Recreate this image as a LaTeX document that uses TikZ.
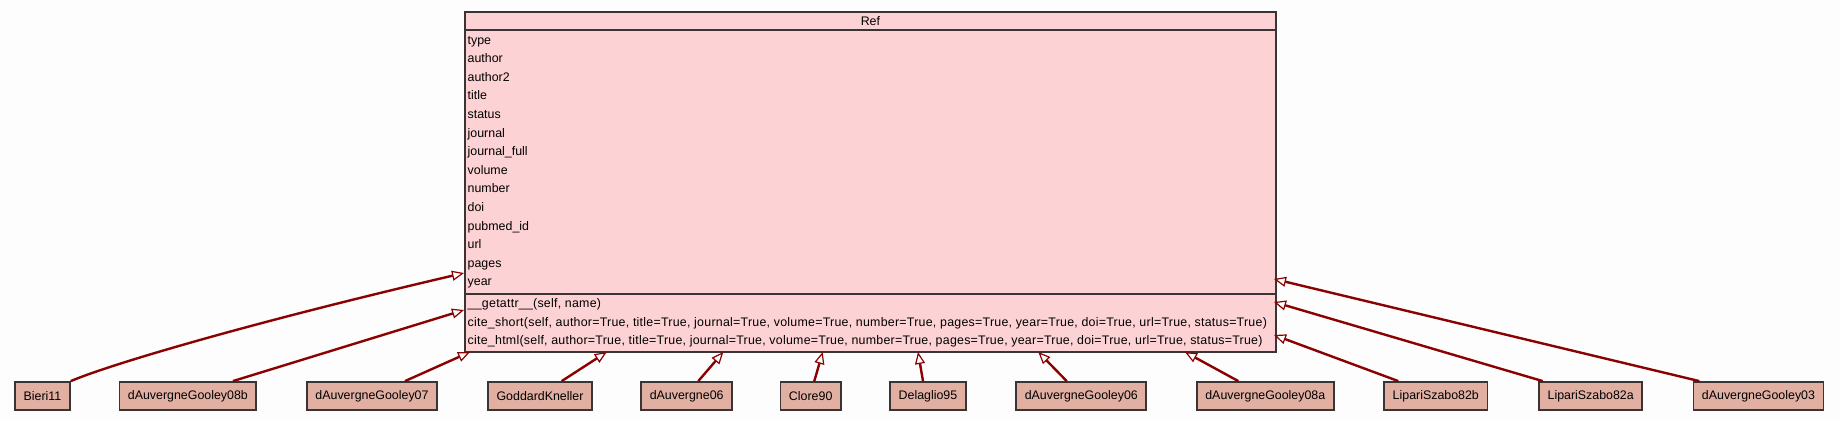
\documentclass[tikz,border=0pt]{standalone}
\usepackage{fontspec}
\setmainfont{Liberation Sans}
\usetikzlibrary{arrows.meta}
\definecolor{umlpink}{RGB}{253,210,212}
\definecolor{umlsalmon}{RGB}{226,176,163}
\definecolor{umlred}{RGB}{139,0,0}
\definecolor{umlborder}{RGB}{58,52,52}
\definecolor{umlbg}{RGB}{252,253,252}
\newcommand\umlfont{\fontsize{12.4}{14}\selectfont}
\newcommand\methfont{\umlfont\addfontfeature{LetterSpace=2.0}}
\tikzset{
  classbox/.style={rectangle, draw=umlborder, fill=umlpink, line width=1.8pt,
                   inner sep=0pt, anchor=north west, minimum width=811pt, font=\umlfont},
  classrow/.style={anchor=base west, inner sep=0pt, font=\umlfont},
  methrow/.style={anchor=base west, inner sep=0pt, font=\methfont},
  subclass/.style={rectangle, draw=umlborder, fill=umlsalmon, line width=1.8pt,
                   minimum height=28pt, inner xsep=8.5pt, inner ysep=0pt, font=\umlfont},
  inherit/.style={-{Triangle[length=12pt, width=10pt, fill=white, line width=1.2pt]},
                  line width=2.4pt, umlred},
}

\begin{document}
\begin{tikzpicture}[x=1pt, y=-1pt]
  \fill[umlbg] (0,0) rectangle (1840,421);
  \useasboundingbox (0,0) rectangle (1840,421);
  \node[classbox, minimum height=18pt] (ref) at (464,11) {Ref};
  \node[classbox, minimum height=264pt] (attrs) at (464,29) {};
  \node[classbox, minimum height=58pt] (meths) at (464,293) {};
  \foreach \attr [count=\i] in {type,author,author2,title,status,journal,journal\_full,
      volume,number,doi,pubmed\_id,url,pages,year}
    \node[classrow] (attr\i) at (467.5,{44.1+(\i-1)*18.6}) {\attr};
  \node[methrow] (meth1) at (467.5,307.5) {\_\_getattr\_\_(self, name)};
  \node[methrow] (meth2) at (467.5,326) {cite\_short(self, author=True, title=True, journal=True, volume=True, number=True, pages=True, year=True, doi=True, url=True, status=True)};
  \node[methrow] (meth3) at (467.5,344.5) {cite\_html(self, author=True, title=True, journal=True, volume=True, number=True, pages=True, year=True, doi=True, url=True, status=True)};

  \foreach \cx/\nm/\lbl in {42.5/bieri/Bieri11, 187.9/dag08b/dAuvergneGooley08b,
      372/dag07/dAuvergneGooley07, 540/goddard/GoddardKneller, 686.7/dau06/dAuvergne06,
      810.7/clore/Clore90, 928/delaglio/Delaglio95, 1081.3/dag06/dAuvergneGooley06,
      1265.3/dag08a/dAuvergneGooley08a, 1435.8/lip82b/LipariSzabo82b,
      1590.7/lip82a/LipariSzabo82a, 1758.5/dag03/dAuvergneGooley03}
    \node[subclass] (\nm) at (\cx,396) {\lbl};

  \foreach \tn/\tx/\ty in {tbieri/464/273, tdag08b/464/310, tdag07/470/352,
      tgoddard/606.7/352, tdau06/723.3/352, tclore/822.7/352, tdelaglio/918/352,
      tdag06/1038.3/352, tdag08a/1185/352, tlip82b/1274/335, tlip82a/1274/302,
      tdag03/1274/279}
    \coordinate (\tn) at (\tx,\ty);

  \draw[inherit] (bieri.north east) .. controls +(40,-17) and +(-214,50) .. (tbieri);
  \foreach \nm/\dx in {dag08b/45, dag07/33, goddard/21.7, dau06/11.6, clore/3.6,
      delaglio/-5, dag06/-14.6, dag08a/-27, lip82b/-37.5, lip82a/-48, dag03/-59.2}
    \draw[inherit] ([xshift=\dx pt]\nm.north) -- (t\nm);
\end{tikzpicture}
\end{document}
